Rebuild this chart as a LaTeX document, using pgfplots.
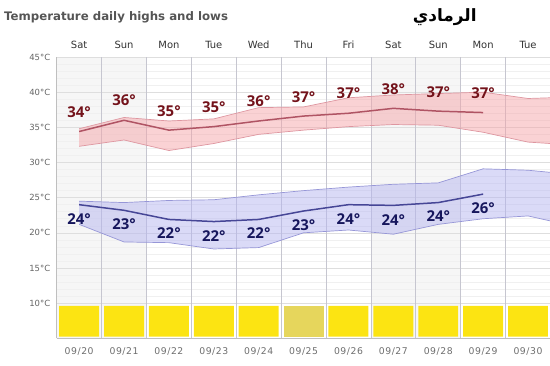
\documentclass[border=0pt]{standalone}
\usepackage{fontspec}
\setmainfont{DejaVu Sans}
\newfontfamily\labfont{Open Sans}
\newfontfamily\datefont[LetterSpace=6]{DejaVu Sans}
\newfontfamily\arabicfont[Script=Arabic]{DejaVu Sans}
\TeXXeTstate=1
\usepackage{pgfplots}
\usepackage{pgfplotstable}
\usepgfplotslibrary{fillbetween}
\pgfplotsset{compat=1.18}

\definecolor{hiline}{RGB}{176,84,100}
\definecolor{hifill}{RGB}{245,165,170}
\definecolor{hiedge}{RGB}{222,150,160}
\definecolor{loline}{RGB}{70,70,150}
\definecolor{lofill}{RGB}{182,182,240}
\definecolor{loedge}{RGB}{150,150,215}
\definecolor{hilab}{RGB}{115,18,26}
\definecolor{lolab}{RGB}{22,22,92}
\definecolor{sunny}{RGB}{252,228,18}
\definecolor{hazy}{RGB}{230,214,92}
\definecolor{wkend}{RGB}{246,246,246}
\definecolor{vgrid}{RGB}{198,198,208}
\definecolor{ticktxt}{RGB}{100,100,100}
\definecolor{datetxt}{RGB}{110,110,110}
\definecolor{daytxt}{RGB}{50,50,50}
\definecolor{titletxt}{RGB}{85,85,85}

\pgfplotstableread{
x top bot
0 34.8 32.3
1 36.4 33.2
2 35.9 31.7
3 36.2 32.7
4 37.8 34.0
5 37.9 34.6
6 39.2 35.1
7 39.6 35.4
8 39.8 35.3
9 40.0 34.3
10 39.1 32.9
10.49 39.2 32.7
}\hiband

\pgfplotstableread{
x top bot
0 24.5 21.2
1 24.3 18.7
2 24.6 18.6
3 24.7 17.7
4 25.4 17.9
5 26.0 20.0
6 26.5 20.4
7 26.9 19.8
8 27.1 21.2
9 29.1 22.0
10 28.9 22.4
10.49 28.6 21.7
}\loband

\pgfplotstableread{
x y
0 34.4
1 36.0
2 34.6
3 35.1
4 35.9
5 36.6
6 37.0
7 37.7
8 37.3
9 37.1
}\hiline

\pgfplotstableread{
x y
0 24.0
1 23.2
2 21.9
3 21.6
4 21.9
5 23.1
6 24.0
7 23.9
8 24.3
9 25.5
}\loline

\pgfplotstableread{
x y lab
0 37.1 34°
1 38.8 36°
2 37.3 35°
3 37.9 35°
4 38.7 36°
5 39.3 37°
6 39.8 37°
7 40.4 38°
8 39.95 37°
9 39.8 37°
}\hilabs

\pgfplotstableread{
x y lab
0 21.93 24°
1 21.3 23°
2 19.9 22°
3 19.57 22°
4 19.9 22°
5 21.1 23°
6 21.98 24°
7 21.74 24°
8 22.35 24°
9 23.5 26°
}\lolabs

\begin{document}
\begin{tikzpicture}
\begin{axis}[
  name=ax,
  set layers,
  scale only axis,
  width=493.3bp, height=281.3bp,
  xmin=-0.5, xmax=10.49,
  ymin=5, ymax=45,
  axis lines*=left,
  axis line style={-, draw=black!25, line width=0.6pt},
  major tick length=0pt, minor tick length=0pt,
  xtick={0,...,10},
  xticklabels={09/20,09/21,09/22,09/23,09/24,09/25,09/26,09/27,09/28,09/29,09/30},
  xticklabel style={font=\datefont\fontsize{9.3}{10}\selectfont, text=datetxt, yshift=-6bp},
  extra x ticks={0.5,1.5,...,9.5},
  extra x tick labels={},
  extra x tick style={grid=major, major grid style={draw=vgrid, line width=0.6pt}},
  ytick={10,15,...,45},
  yticklabels={10°C,15°C,20°C,25°C,30°C,35°C,40°C,45°C},
  yticklabel style={font=\fontsize{8.5}{10}\selectfont, text=ticktxt, xshift=-3bp},
  minor y tick num=4,
  ymajorgrids, yminorgrids,
  major grid style={draw=black!13, line width=0.5pt},
  minor grid style={draw=black!6, line width=0.5pt},
]
% weekend shading
\addplot[fill=wkend, draw=none, on layer=axis background] coordinates {(-0.5,5) (1.5,5) (1.5,45) (-0.5,45)} --cycle;
\addplot[fill=wkend, draw=none, on layer=axis background] coordinates {(6.5,5) (8.5,5) (8.5,45) (6.5,45)} --cycle;

% high band
\addplot[draw=hiedge, line width=0.7pt, name path=ht] table[x=x, y=top]{\hiband};
\addplot[draw=hiedge, line width=0.7pt, name path=hb] table[x=x, y=bot]{\hiband};
\addplot[fill=hifill, fill opacity=0.5, draw=none] fill between[of=ht and hb];
% low band
\addplot[draw=loedge, line width=0.7pt, name path=lt] table[x=x, y=top]{\loband};
\addplot[draw=loedge, line width=0.7pt, name path=lb] table[x=x, y=bot]{\loband};
\addplot[fill=lofill, fill opacity=0.5, draw=none] fill between[of=lt and lb];

% lines
\addplot[draw=hiline, line width=1.5pt, mark=none] table[x=x, y=y]{\hiline};
\addplot[draw=loline, line width=1.5pt, mark=none] table[x=x, y=y]{\loline};

% labels
\addplot[draw=none, mark=none, nodes near coords, point meta=explicit symbolic,
  every node near coord/.append style={anchor=center, inner sep=0pt, font=\labfont\bfseries\fontsize{15}{16}\selectfont, text=hilab}]
  table[x=x, y=y, meta=lab]{\hilabs};
\addplot[draw=none, mark=none, nodes near coords, point meta=explicit symbolic,
  every node near coord/.append style={anchor=center, inner sep=0pt, font=\labfont\bfseries\fontsize{15}{16}\selectfont, text=lolab}]
  table[x=x, y=y, meta=lab]{\lolabs};

% weather bars
\addplot[fill=sunny, draw=none, unbounded coords=jump] table {
x y
-0.445 5.25
0.445 5.25
0.445 9.6
-0.445 9.6
nan nan
0.555 5.25
1.445 5.25
1.445 9.6
0.555 9.6
nan nan
1.555 5.25
2.445 5.25
2.445 9.6
1.555 9.6
nan nan
2.555 5.25
3.445 5.25
3.445 9.6
2.555 9.6
nan nan
3.555 5.25
4.445 5.25
4.445 9.6
3.555 9.6
nan nan
5.555 5.25
6.445 5.25
6.445 9.6
5.555 9.6
nan nan
6.555 5.25
7.445 5.25
7.445 9.6
6.555 9.6
nan nan
7.555 5.25
8.445 5.25
8.445 9.6
7.555 9.6
nan nan
8.555 5.25
9.445 5.25
9.445 9.6
8.555 9.6
nan nan
9.555 5.25
10.445 5.25
10.445 9.6
9.555 9.6
};
\addplot[fill=hazy, draw=none] coordinates {(4.555,5.25) (5.445,5.25) (5.445,9.6) (4.555,9.6)} --cycle;
\end{axis}

\begin{axis}[
  scale only axis,
  width=493.3bp, height=281.3bp,
  xmin=-0.5, xmax=10.49,
  ymin=5, ymax=45,
  axis x line*=top,
  axis y line=none,
  axis line style={draw=none},
  major tick length=0pt,
  xtick={0,...,10},
  xticklabels={Sat,Sun,Mon,Tue,Wed,Thu,Fri,Sat,Sun,Mon,Tue},
  xticklabel style={font=\fontsize{10}{11}\selectfont, text=daytxt, yshift=5bp},
]
\end{axis}

\node[anchor=west, font=\bfseries\fontsize{11.8}{13}\selectfont, text=titletxt, inner sep=0pt]
  at ([shift={(-52.7bp,40bp)}]ax.north west) {Temperature daily highs and lows};
\node[anchor=center, font=\arabicfont\bfseries\fontsize{17}{20}\selectfont, text=black, inner sep=0pt]
  at ([shift={(388bp,40bp)}]ax.north west) {\beginR الرمادي\endR};

\pgfresetboundingbox
\path[use as bounding box] ([shift={(-56.7bp,-27.7bp)}]ax.south west) rectangle ([shift={(0bp,57bp)}]ax.north east);
\end{tikzpicture}
\end{document}
